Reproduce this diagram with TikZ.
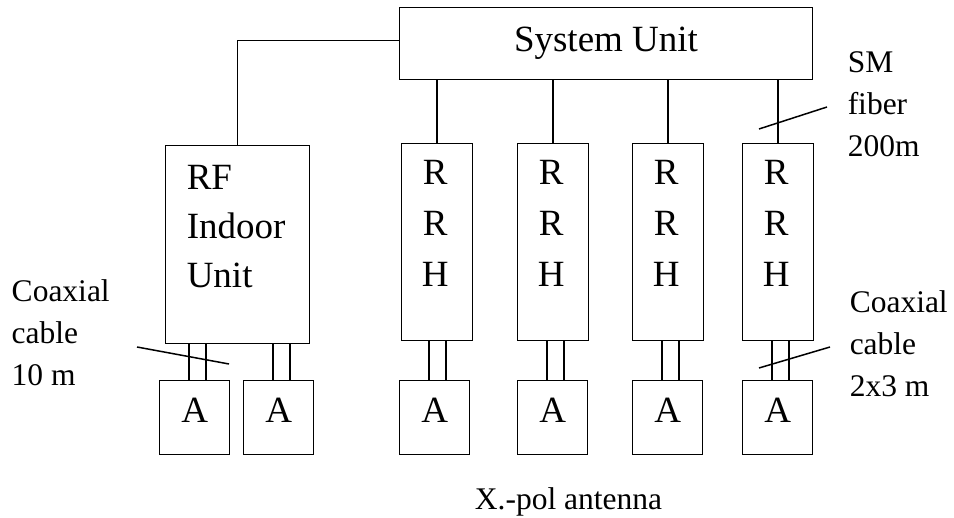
\documentclass[tikz,border=0pt]{standalone}
\usepackage{fontspec}
\setmainfont{Liberation Serif}
\begin{document}
\begin{tikzpicture}[x=1pt,y=-1pt,
  line width=1.5pt,
  unitbox/.style={draw, line width=1.3pt, rectangle, inner sep=0pt, anchor=north west},
  boxtext/.style={inner sep=0pt, font=\fontsize{37}{49}\selectfont},
  rrhtext/.style={inner sep=0pt, align=center, anchor=base, font=\fontsize{37}{51}\selectfont},
  labeltext/.style={inner sep=0pt, align=left, anchor=base west, font=\fontsize{31.5}{42}\selectfont},
  wire/.style={line width=1.5pt},
  slash/.style={line width=1.5pt}]
\useasboundingbox (0,0) rectangle (954,518);

% system unit
\node[unitbox, minimum width=413pt, minimum height=72pt] (su) at (399,7) {};
\node[boxtext, anchor=base] (sutext) at (606,52) {System Unit};

% RF indoor unit (multi-line nodes are placed by the baseline of their last line)
\node[unitbox, minimum width=144pt, minimum height=198pt] (rf) at (165,145) {};
\node[boxtext, align=left, anchor=base west] (rftext) at (186,288) {RF\\Indoor\\Unit};

% remote radio heads
\foreach \i/\x in {1/401,2/517,3/632,4/742}{
  \node[unitbox, minimum width=71pt, minimum height=197pt] (rrh\i) at (\x,143) {};
  \node[rrhtext] (rrhtext\i) at ([xshift=-2pt]rrh\i.north |- 0,287) {R\\R\\H};
}

% antennas
\foreach \i/\x in {1/159,2/243,3/399,4/517,5/632,6/742}{
  \node[unitbox, minimum width=70pt, minimum height=74pt] (a\i) at (\x,380) {};
  \node[boxtext, anchor=base] (atext\i) at ([yshift=-43pt]a\i.north) {A};
}

% system unit links
\draw ([yshift=3pt]su.west) -| (rf.north);
\foreach \i in {1,...,4}{
  \draw (rrh\i.north) -- (rrh\i.north |- su.south);
}

% coaxial pairs down to the antennas
\foreach \i/\up in {1/rf,2/rf,3/rrh1,4/rrh2,5/rrh3,6/rrh4}{
  \draw[wire] ([xshift=-5.5pt]a\i.north) -- ([xshift=-5.5pt]a\i.north |- \up.south);
  \draw[wire] ([xshift=11.5pt]a\i.north) -- ([xshift=11.5pt]a\i.north |- \up.south);
}

% cable markers
\coordinate (cl1) at (137,347); \coordinate (cl2) at (229,364);
\coordinate (sm1) at (759,129); \coordinate (sm2) at (827,107);
\coordinate (cr1) at (759,368); \coordinate (cr2) at (830,347);
\draw[slash] (cl1) -- (cl2);
\draw[slash] (sm1) -- (sm2);
\draw[slash] (cr1) -- (cr2);

% labels
\node[labeltext] (smlabel) at (847,157) {SM\\fiber\\200m};
\node[labeltext] (coaxright) at (849,397) {Coaxial\\cable\\2x3 m};
\node[labeltext] (coaxleft) at (11,386) {Coaxial\\cable\\10 m};
\node[inner sep=0pt, anchor=base, font=\fontsize{31.5}{42}\selectfont] (antlabel) at (568.5,510) {X.-pol antenna};
\end{tikzpicture}
\end{document}
